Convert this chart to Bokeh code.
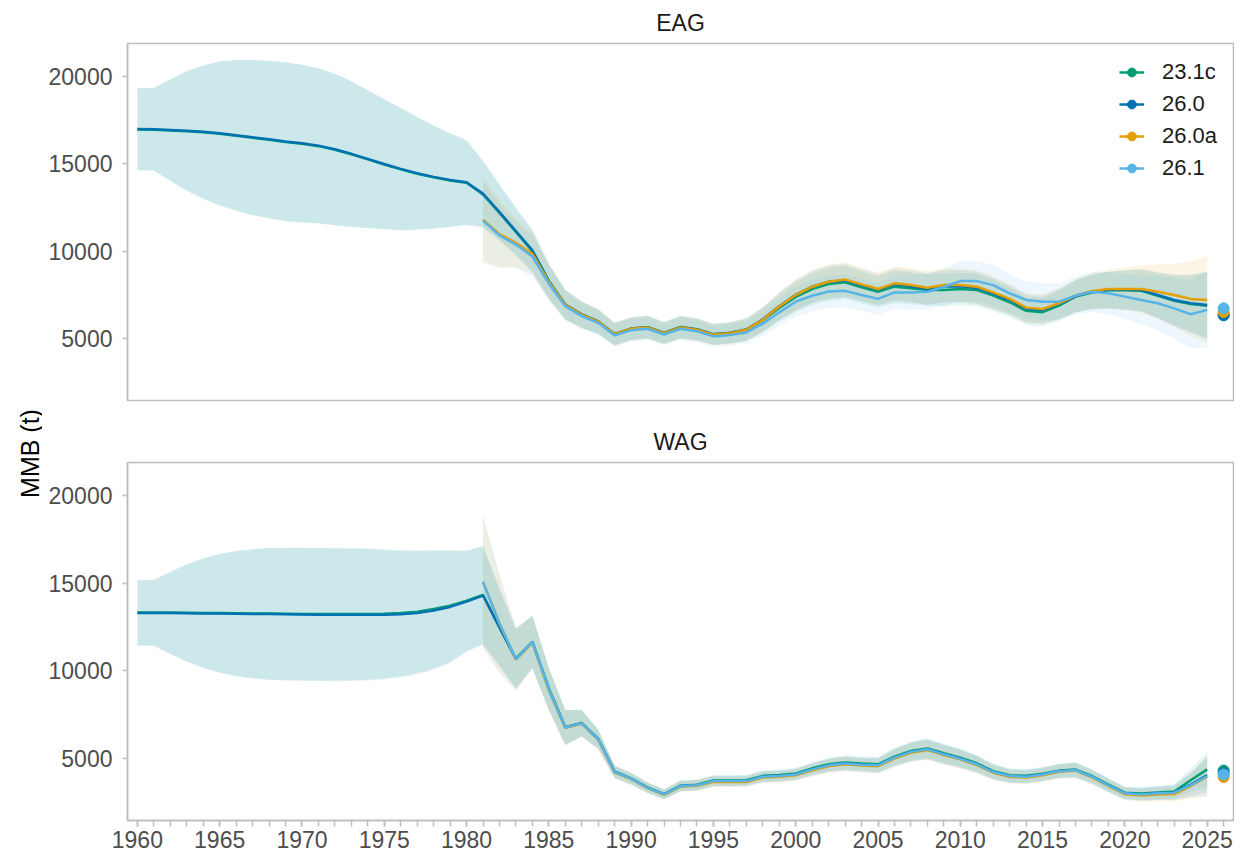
from math import pi
from bokeh.plotting import figure
from bokeh.layouts import row, column
from bokeh.models import Range1d, FixedTicker, Legend, LegendItem, Label, ColumnDataSource
from bokeh.embed import file_html
from bokeh.resources import INLINE

# ---------------- data ----------------
series_names = ["23.1c", "26.0", "26.0a", "26.1"]
series_colors = ["#009E73", "#0072B2", "#E69F00", "#56B4E9"]

years_all = list(range(1960, 2026))   # 23.1c and 26.0
years_new = list(range(1981, 2026))   # 26.0a and 26.1
dot_year = 2026
x_ticks = [1960, 1965, 1970, 1975, 1980, 1985, 1990, 1995, 2000, 2005, 2010, 2015, 2020, 2025]
y_ticks = [5000, 10000, 15000, 20000]

# EAG MMB (t)
eag_231c = [16970, 16960, 16920, 16870, 16810, 16730, 16620, 16500, 16380, 16260, 16150, 16020, 15810, 15550,
            15260, 14970, 14690, 14440, 14230, 14050, 13920,
            13250, 12200, 11100, 10000, 8280, 6940, 6370, 5980, 5250, 5570, 5650, 5320, 5660, 5530, 5250,
            5330, 5500, 6050, 6750, 7380, 7830, 8120, 8220, 7930, 7680, 7970, 7880, 7780, 7780, 7840,
            7780, 7460, 7080, 6590, 6510, 6880, 7400, 7640, 7760, 7770, 7740, 7450, 7160, 6980, 6880]
eag_260 = [17000, 16990, 16950, 16900, 16840, 16760, 16650, 16530, 16410, 16290, 16180, 16050, 15840, 15580,
           15290, 15000, 14720, 14470, 14260, 14080, 13950,
           13300, 12250, 11150, 10050, 8300, 6950, 6380, 5980, 5260, 5570, 5650, 5320, 5650, 5520, 5240,
           5320, 5520, 6100, 6850, 7500, 7970, 8250, 8330, 8060, 7800, 8100, 8000, 7850, 7980, 7990,
           7900, 7580, 7200, 6720, 6640, 6970, 7420, 7700, 7790, 7790, 7780, 7490, 7210, 7020, 6920]
eag_260a = [11800, 10980, 10480, 9850, 8250, 6930, 6360, 5970, 5250, 5560, 5630, 5300, 5630, 5500, 5220,
            5300, 5500, 6070, 6830, 7490, 7970, 8250, 8380, 8100, 7840, 8160, 8060, 7910, 8060, 8060,
            7970, 7640, 7270, 6770, 6690, 7020, 7460, 7720, 7840, 7840, 7840, 7680, 7490, 7270, 7210]
eag_261 = [11750, 10900, 10380, 9700, 8150, 6850, 6280, 5900, 5180, 5480, 5560, 5230, 5560, 5420, 5120,
           5200, 5350, 5850, 6500, 7110, 7450, 7690, 7730, 7490, 7270, 7640, 7640, 7680, 7950, 8290,
           8290, 8060, 7590, 7210, 7110, 7110, 7460, 7680, 7590, 7400, 7210, 7020, 6730, 6390, 6640]
# half-widths of the shaded intervals (t)
eag_hw_a = [2350, 2370, 2900, 3420, 3820, 4120, 4320, 4450, 4510, 4550, 4520, 4450, 4340, 4170, 3950, 3720,
            3500, 3230, 2950, 2680, 2420,
            1900, 1600, 1350, 1200, 1000, 850, 750, 700, 650, 650, 650, 620, 640, 630, 600,
            610, 640, 700, 780, 860, 920, 950, 960, 930, 900, 930, 920, 910, 920, 930,
            920, 890, 850, 800, 800, 850, 920, 980, 1050, 1120, 1200, 1300, 1450, 1650, 1900]
eag_hw_260a = [2500, 1950, 1400, 1150, 1000, 850, 750, 700, 650, 650, 650, 620, 640, 630, 600,
               610, 640, 710, 800, 880, 940, 970, 990, 960, 930, 960, 950, 940, 950, 960,
               950, 920, 880, 830, 830, 880, 960, 1030, 1120, 1220, 1350, 1550, 1800, 2150, 2500]
eag_hw_261 = [2300, 1800, 1350, 1150, 1000, 850, 750, 700, 650, 650, 650, 620, 640, 630, 600,
              610, 630, 700, 780, 850, 900, 930, 940, 920, 900, 950, 980, 1020, 1080, 1150,
              1170, 1150, 1100, 1050, 1050, 1060, 1100, 1150, 1200, 1300, 1400, 1550, 1750, 1950, 2200]
eag_dots = [6380, 6330, 6520, 6730]

# WAG MMB (t)
wag_231c = [13330, 13330, 13330, 13320, 13310, 13300, 13290, 13280, 13270, 13260, 13250, 13240, 13240, 13240,
            13250, 13260, 13300, 13380, 13530, 13720, 14000,
            14330, 12500, 10700, 11660, 9000, 6780, 7020, 6110, 4250, 3860, 3340, 2960, 3440, 3490, 3740,
            3740, 3750, 4000, 4050, 4140, 4430, 4660, 4770, 4700, 4660, 5100, 5420, 5570, 5290, 5040,
            4720, 4270, 4040, 4000, 4120, 4300, 4360, 3990, 3500, 3040, 2990, 3050, 3110, 3750, 4370]
wag_260 = [13300, 13300, 13300, 13290, 13280, 13270, 13260, 13250, 13240, 13230, 13220, 13210, 13200, 13200,
           13200, 13200, 13230, 13300, 13450, 13650, 13950,
           14300, 12480, 10670, 11640, 8950, 6760, 7000, 6090, 4220, 3840, 3320, 2940, 3420, 3460, 3700,
           3700, 3700, 3950, 3990, 4080, 4370, 4600, 4710, 4640, 4600, 5040, 5370, 5520, 5230, 4980,
           4660, 4220, 3990, 3950, 4080, 4270, 4330, 3950, 3460, 3000, 2940, 3000, 3040, 3500, 4050]
wag_260a = [15080, 12700, 10650, 11600, 8900, 6740, 6980, 6070, 4200, 3820, 3300, 2920, 3390, 3430, 3650,
            3650, 3650, 3900, 3950, 4030, 4320, 4550, 4660, 4590, 4550, 4990, 5320, 5470, 5190, 4940,
            4620, 4180, 3950, 3900, 4030, 4230, 4300, 3910, 3420, 2950, 2880, 2930, 2960, 3420, 3950]
wag_261 = [15080, 12700, 10670, 11640, 8950, 6760, 7000, 6090, 4220, 3840, 3320, 2940, 3420, 3460, 3700,
           3700, 3700, 3950, 3990, 4080, 4370, 4600, 4710, 4640, 4600, 5040, 5370, 5520, 5230, 4980,
           4660, 4220, 3990, 3950, 4080, 4270, 4330, 3950, 3460, 3000, 2940, 3000, 3040, 3460, 3990]
wag_hw_a = [1875, 1875, 2350, 2775, 3125, 3390, 3575, 3685, 3760, 3785, 3795, 3795, 3790, 3780, 3755, 3690,
            3610, 3515, 3400, 3200, 2875,
            2800, 2200, 1700, 1500, 1200, 1000, 750, 550, 350, 330, 300, 280, 300, 300, 300,
            300, 300, 320, 320, 330, 350, 380, 400, 400, 420, 500, 540, 570, 550, 520,
            480, 430, 390, 380, 390, 400, 420, 400, 380, 350, 360, 380, 420, 650, 1000]
wag_hw_b = [3780, 2800, 1800, 1500, 1200, 1000, 750, 550, 350, 330, 300, 280, 300, 300, 300,
            300, 300, 320, 320, 330, 350, 380, 400, 400, 420, 500, 540, 570, 550, 520,
            480, 430, 390, 380, 390, 400, 420, 400, 380, 350, 360, 380, 420, 700, 1150]
wag_dots = [4300, 4150, 3930, 4080]

# ---------------- styling ----------------
FONT = "Liberation Sans"
GREY_LINE = "#bdbdbd"
TICK_TEXT = "#4d4d4d"
TICK_SIZE = "23px"
LEFT_W = 42


def make_panel(title, mids, hws, dots, height, min_top, min_bottom, show_x):
    p = figure(width=1234 - LEFT_W, height=height, x_range=Range1d(1959.4, 2026.6),
               y_range=Range1d(1450, 21900), output_backend="svg", toolbar_location=None,
               min_border_left=127 - LEFT_W, min_border_right=1,
               min_border_top=min_top, min_border_bottom=min_bottom)
    p.title.text = title
    p.title.align = "center"
    p.title.text_font = FONT
    p.title.text_font_size = "23px"
    p.title.text_font_style = "normal"
    p.title.text_color = "#1a1a1a"
    p.title.text_line_height = 0.9
    p.title.standoff = 15
    p.xgrid.visible = False
    p.ygrid.visible = False
    p.outline_line_color = GREY_LINE
    p.outline_line_width = 1.5
    p.background_fill_color = "white"

    xs_list = [years_all, years_all, years_new, years_new]
    # ribbons
    for xs, m, h, c in zip(xs_list, mids, hws, series_colors):
        src = ColumnDataSource(dict(x=xs, lo=[a - b for a, b in zip(m, h)], hi=[a + b for a, b in zip(m, h)]))
        p.varea(x="x", y1="lo", y2="hi", source=src, fill_color=c, fill_alpha=0.1)
    lines = []
    for xs, m, c in zip(xs_list, mids, series_colors):
        lines.append(p.line(xs, m, line_color=c, line_width=2.5))
    pts = []
    for d, c in zip(dots, series_colors):
        pts.append(p.scatter([dot_year], [d], size=11, fill_color=c, line_color=c))

    # y axis
    ya = p.yaxis[0]
    ya.ticker = FixedTicker(ticks=y_ticks)
    ya.major_label_text_font = FONT
    ya.major_label_text_font_size = TICK_SIZE
    ya.major_label_text_color = TICK_TEXT
    ya.axis_line_color = GREY_LINE
    ya.axis_line_width = 1.5
    ya.major_tick_line_color = GREY_LINE
    ya.major_tick_line_width = 1.5
    ya.major_tick_out = 5
    ya.major_tick_in = 0
    ya.minor_tick_line_color = None
    ya.major_label_standoff = 10

    xa = p.xaxis[0]
    if show_x:
        xa.ticker = FixedTicker(ticks=x_ticks, minor_ticks=years_all + [dot_year])
        xa.major_label_text_font = FONT
        xa.major_label_text_font_size = TICK_SIZE
        xa.major_label_text_color = TICK_TEXT
        xa.axis_line_color = GREY_LINE
        xa.axis_line_width = 1.5
        xa.major_tick_line_color = GREY_LINE
        xa.major_tick_line_width = 1.5
        xa.minor_tick_line_color = GREY_LINE
        xa.minor_tick_line_width = 1.5
        xa.major_tick_out = 6
        xa.major_tick_in = 0
        xa.minor_tick_out = 6
        xa.minor_tick_in = 0
        xa.major_label_standoff = 4
    else:
        xa.visible = False
    return p, lines, pts


p1, l1, d1 = make_panel("EAG", [eag_231c, eag_260, eag_260a, eag_261],
                        [eag_hw_a, eag_hw_a, eag_hw_260a, eag_hw_261], eag_dots, 410, 42, 10, False)
p2, l2, d2 = make_panel("WAG", [wag_231c, wag_260, wag_260a, wag_261],
                        [wag_hw_a, wag_hw_a, wag_hw_b, wag_hw_b], wag_dots, 444, 52, 34, True)

legend = Legend(items=[LegendItem(label=n, renderers=[l, d]) for n, l, d in zip(series_names, l1, d1)],
                location="top_right", border_line_color=None, background_fill_alpha=0,
                label_text_font=FONT, label_text_font_size="22px", label_text_color="#1a1a1a",
                glyph_width=25, glyph_height=22, label_standoff=18, spacing=6, padding=4, margin=16)
p1.add_layout(legend)

ylab = figure(width=LEFT_W, height=854, x_range=Range1d(0, LEFT_W), y_range=Range1d(0, 854),
              output_backend="svg", toolbar_location=None, min_border=0)
ylab.axis.visible = False
ylab.xgrid.visible = False
ylab.ygrid.visible = False
ylab.outline_line_color = None
ylab.add_layout(Label(x=29, y=854 - 453, text="MMB (t)", angle=pi / 2, text_align="center",
                      text_baseline="middle", text_font=FONT,
                      text_font_size="25px", text_color="black"))

layout = row(ylab, column(p1, p2))
open("out.html", "w").write(file_html(layout, INLINE))
